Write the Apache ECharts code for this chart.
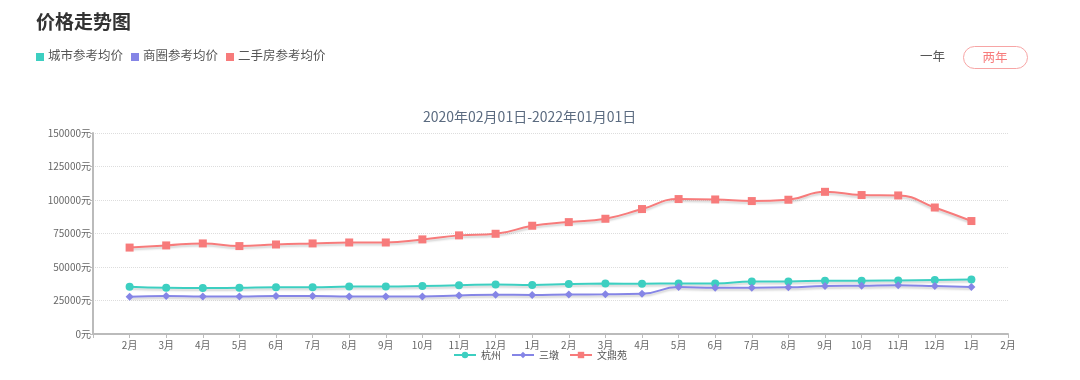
<!DOCTYPE html>
<html><head><meta charset="utf-8">
<script src="https://cdn.jsdelivr.net/npm/echarts@6/dist/echarts.min.js"></script>
<style>html,body{margin:0;padding:0;background:#fff}#c{width:1080px;height:380px}</style>
</head><body><div id="c"></div>
<script>
const categories = ['', '2月','3月','4月','5月','6月','7月','8月','9月','10月','11月','12月','1月','2月','3月','4月','5月','6月','7月','8月','9月','10月','11月','12月','1月','2月'];
const hangzhou = [null, 35300,34500,34300,34500,34800,34800,35500,35500,35800,36300,37000,36500,37300,37600,37500,37700,37700,39200,39200,39800,39800,40000,40300,40700];
const sandun = [null, 27800,28300,28000,28000,28300,28300,28000,28000,28000,28800,29300,29100,29500,29600,30000,35000,34500,34500,34800,35800,36000,36300,35800,35000];
const wendingyuan = [null, 64500,66100,67600,65600,66800,67600,68300,68300,70600,73600,74800,80800,83500,86000,93250,100700,100400,99200,100200,106100,103700,103400,94400,84300];
const yTicks = [0, 150000, 25000];
const seriesNames = ['杭州','三墩','文鼎苑'];
const topLegend = ['城市参考均价','商圈参考均价','二手房参考均价'];
const colors = ['#3dcfc1','#8585e6','#f77b7b'];
const FF = '"Noto Sans CJK SC", "Noto Sans", sans-serif';

const chart = echarts.init(document.getElementById('c'), null, {renderer:'canvas'});
function mkSeries(name, data, symbol, size, color){
  return {name, type:'line', data, smooth:true, symbol, symbolSize:size, showSymbol:true,
    itemStyle:{color},
    lineStyle:{width:2, color, shadowColor:'rgba(0,0,0,0.18)', shadowBlur:2, shadowOffsetY:2}};
}
const graphics = [
  {type:'text', left:36, top:12, style:{text:'价格走势图', font:'bold 19px '+FF, fill:'#333'}},
];
let gx = 36;
topLegend.forEach((t,i)=>{
  graphics.push({type:'rect', shape:{x:gx, y:53, width:8, height:8}, style:{fill:colors[i]}});
  graphics.push({type:'text', x:gx+12, y:49, style:{text:t, font:'12.5px '+FF, fill:'#555'}});
  gx += 12 + t.length*12.5 + 8;
});
graphics.push({type:'text', x:920, y:50, style:{text:'一年', font:'12.5px '+FF, fill:'#555'}});
graphics.push({type:'rect', shape:{x:963.5, y:46.5, width:64, height:22, r:11}, style:{fill:'#fff', stroke:'#f7a5a5', lineWidth:1}});
graphics.push({type:'text', x:995, y:57.5, style:{text:'两年', font:'12.5px '+FF, fill:'#f77b7b', align:'center', verticalAlign:'middle'}});

chart.setOption({
  animation:false,
  color:colors,
  textStyle:{fontFamily:FF},
  title:{text:'2020年02月01日-2022年01月01日', left:418, top:105,
    textStyle:{fontSize:14, fontWeight:'normal', color:'#5b6b80', fontFamily:FF}},
  graphic:graphics,
  legend:{data:seriesNames, bottom:15, left:'center', itemWidth:22, itemHeight:8, itemGap:10,
    textStyle:{fontSize:10, color:'#555', fontFamily:FF}},
  grid:{left:93, right:72, top:133, bottom:46, containLabel:false},
  xAxis:{type:'category', data:categories, boundaryGap:false,
    axisLine:{lineStyle:{color:'#bbb', width:2}},
    axisTick:{lineStyle:{color:'#bbb'}, length:4},
    axisLabel:{fontSize:10, color:'#666', margin:6, interval:0}},
  yAxis:{type:'value', min:yTicks[0], max:yTicks[1], interval:yTicks[2],
    axisLine:{show:true, lineStyle:{color:'#bbb', width:2}},
    axisTick:{show:true, lineStyle:{color:'#bbb'}, length:3},
    axisLabel:{fontSize:10, color:'#666', margin:2, formatter:(v)=>String(v)+'元'},
    splitLine:{lineStyle:{type:'dotted', color:'#ddd'}}},
  series:[
    mkSeries(seriesNames[0], hangzhou, 'circle', 8, colors[0]),
    mkSeries(seriesNames[1], sandun, 'diamond', 8, colors[1]),
    mkSeries(seriesNames[2], wendingyuan, 'rect', 8, colors[2])
  ]
});
</script></body></html>
